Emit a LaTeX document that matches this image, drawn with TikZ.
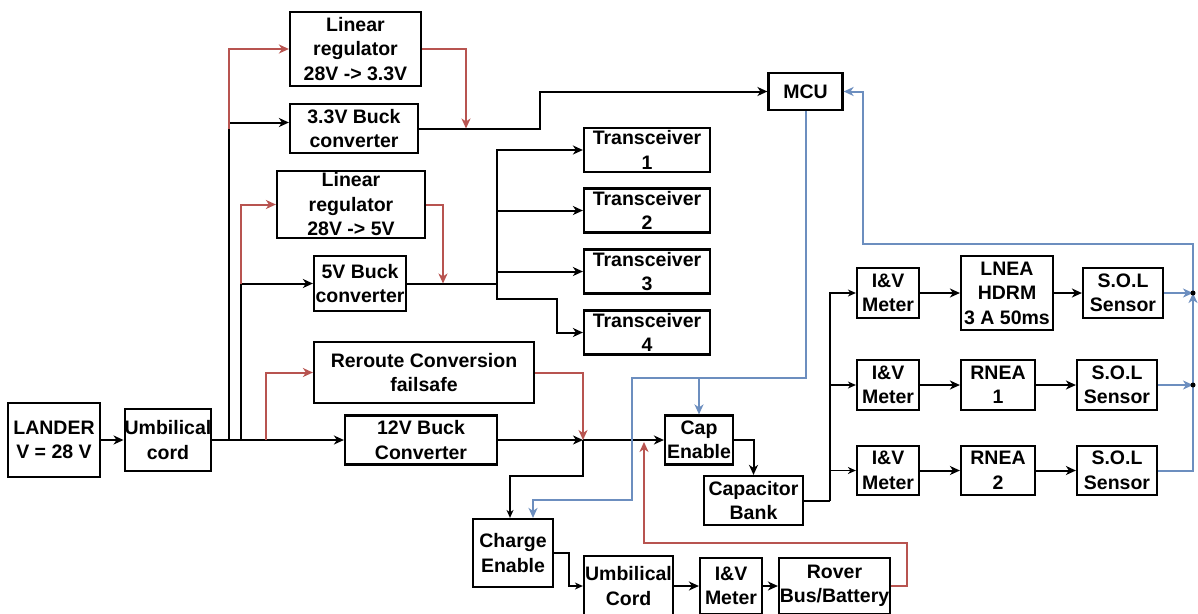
\documentclass[tikz,border=0pt]{standalone}
\usepackage{fontspec}
\setmainfont{Liberation Sans}
\usetikzlibrary{arrows.meta}
\definecolor{wirered}{HTML}{B85450}
\definecolor{wireblue}{HTML}{6C8EBF}

\begin{document}
\begin{tikzpicture}[x=1pt, y=-1pt, sz/.style 2 args={minimum width=#1pt, minimum height=#2pt}]
    % Define block and wire styles
    \tikzstyle{block} = [draw, rectangle, line width=2.2pt, inner sep=0pt, align=center, font=\fontsize{19.5}{24.5}\selectfont\bfseries]
    \tikzstyle{plain} = [line width=2pt]
    \tikzstyle{wire} = [line width=2pt, -{Stealth[length=10pt, width=9pt, inset=3pt]}]
    \tikzstyle{thinwire} = [line width=1.4pt, -{Stealth[length=8pt, width=7pt, inset=2.5pt]}]
    \tikzstyle{redwire} = [wire, draw=wirered]
    \tikzstyle{bluewire} = [wire, draw=wireblue]

    \useasboundingbox (0, 0) rectangle (1198, 613);

    % Power source and converters
    \node[block, sz={92}{74}] (lander) at (54, 440) {LANDER\\V = 28 V};
    \node[block, sz={86}{62}] (umb) at (168, 440) {Umbilical\\cord};
    \node[block, sz={131}{74}] (lin33) at (355.5, 49) {Linear\\regulator\\28V -> 3.3V};
    \node[block, sz={128}{49}] (buck33) at (354, 128.5) {3.3V Buck\\converter};
    \node[block, sz={148}{67}] (lin5) at (351, 204.5) {Linear\\regulator\\28V -> 5V};
    \node[block, sz={92}{55}] (buck5) at (360, 283.5) {5V Buck\\converter};
    \node[block, sz={220}{61}] (reroute) at (424, 372.5) {Reroute Conversion\\failsafe};
    \node[block, sz={152}{49}] (buck12) at (421, 440) {12V Buck\\Converter};

    % Loads
    \foreach \i/\y in {1/150, 2/210.5, 3/271.5, 4/332.5}
        \node[block, sz={126}{44}] (trans\i) at (647, \y) {Transceiver\\\i};
    \node[block, sz={74}{37}] (mcu) at (805.5, 91.5) {MCU};
    \node[block, sz={68}{49}] (capen) at (699, 440) {Cap\\Enable};
    \node[block, sz={99}{49}] (capbank) at (753.5, 500.5) {Capacitor\\Bank};
    \node[block, sz={80}{68}] (chgen) at (513, 553) {Charge\\Enable};
    \node[block, sz={89}{60}] (umb2) at (628.5, 586) {Umbilical\\Cord};
    \node[block, sz={62}{56}] (meter0) at (731, 586) {I\&V\\Meter};
    \node[block, sz={111}{56}] (rover) at (834.5, 586) {Rover\\Bus/Battery};

    % Release actuators
    \node[block, sz={62}{50}] (meter1) at (888, 293) {I\&V\\Meter};
    \node[block, sz={62}{50}] (meter2) at (888, 385) {I\&V\\Meter};
    \node[block, sz={62}{49}] (meter3) at (888, 470.5) {I\&V\\Meter};
    \node[block, sz={92}{74}] (lnea) at (1007, 293) {LNEA\\HDRM\\3 A 50ms};
    \node[block, sz={74}{50}] (rnea1) at (998, 385) {RNEA\\1};
    \node[block, sz={74}{49}] (rnea2) at (998, 470.5) {RNEA\\2};
    \node[block, sz={80}{50}] (sol1) at (1123, 293) {S.O.L\\Sensor};
    \node[block, sz={80}{50}] (sol2) at (1117, 385) {S.O.L\\Sensor};
    \node[block, sz={80}{49}] (sol3) at (1117, 470.5) {S.O.L\\Sensor};

    % Bend points
    \coordinate (j1) at (229, 440);
    \coordinate (j2) at (241, 440);
    \coordinate (j3) at (266, 440);
    \coordinate (j12) at (583, 440);
    \coordinate (m33) at (466, 128.5);
    \coordinate (bend33) at (540, 128.5);
    \coordinate (m5) at (443, 283.5);
    \coordinate (tx) at (497, 283.5);
    \coordinate (tx4) at (557, 299);
    \coordinate (cb) at (510, 476);
    \coordinate (ce) at (569, 553);
    \coordinate (rb) at (907, 543);
    \coordinate (ru) at (644, 442);
    \coordinate (cbt) at (830, 500.5);
    \coordinate (d1) at (1193, 293);
    \coordinate (d2) at (1193, 385);
    \coordinate (bt) at (1193, 244);
    \coordinate (bm) at (863, 91.5);
    \coordinate (mb) at (805.5, 378);
    \coordinate (bl) at (632, 500);
    \coordinate (bc) at (533, 500);

    % Main power paths
    \draw[wire] (lander) -- (umb);
    \draw[wire] (umb) -- (buck12);
    \draw[wire] (j1) |- ([yshift=6pt]buck33.west);
    \draw[wire] (j2) |- (buck5);
    \draw[wire] (buck33) -- (bend33) |- (mcu);
    \draw[plain] (buck5) -- (tx);
    \draw[wire] (tx) |- (trans1);
    \draw[wire] (tx) |- (trans2);
    \draw[wire] (tx) |- (trans3);
    \draw[wire] (tx) |- (tx4) |- (trans4);
    \draw[wire] (buck12) -- (j12);
    \draw[wire] (j12) -- (capen);
    \draw[thinwire] (j12) |- (cb) -- (cb |- chgen.north);
    \draw[thinwire] (chgen) -- (ce) |- (umb2);
    \draw[wire] (umb2) -- (meter0);
    \draw[wire] (meter0) -- (rover);
    \draw[wire] (capen) -| (capbank);
    \draw[plain] (capbank) -- (cbt);
    \draw[thinwire] (cbt) |- (meter1);
    \draw[thinwire] (cbt) |- (meter2);
    \draw[thinwire] (cbt) |- (meter3);
    \draw[wire] (meter1) -- (lnea);
    \draw[wire] (lnea) -- (sol1);
    \draw[wire] (meter2) -- (rnea1);
    \draw[wire] (rnea1) -- (sol2);
    \draw[wire] (meter3) -- (rnea2);
    \draw[wire] (rnea2) -- (sol3);

    % Backup paths
    \draw[redwire] (buck33.west -| j1) |- (lin33);
    \draw[redwire] (buck5.west -| j2) |- (lin5);
    \draw[redwire] (j3) |- (reroute);
    \draw[redwire] (lin33) -| (m33);
    \draw[redwire] (lin5) -| (m5);
    \draw[redwire] (reroute) -| (j12);
    \draw[redwire] (rover) -| (rb) -| (ru);

    % Sensor and control lines
    \draw[bluewire] (sol1) -- (d1);
    \draw[bluewire] (sol2) -- (d2);
    \draw[bluewire] (sol3) -| (d1);
    \draw[bluewire] (d1) -- (bt) -| (bm) -- (mcu);
    \draw[bluewire] (mcu) -- (mb) -| (bl) -- (bc) -- (bc |- chgen.north);
    \draw[bluewire] (capen.north |- mb) -- (capen);
    \fill (d1) circle (2.5pt);
    \fill (d2) circle (2.5pt);
\end{tikzpicture}
\end{document}
